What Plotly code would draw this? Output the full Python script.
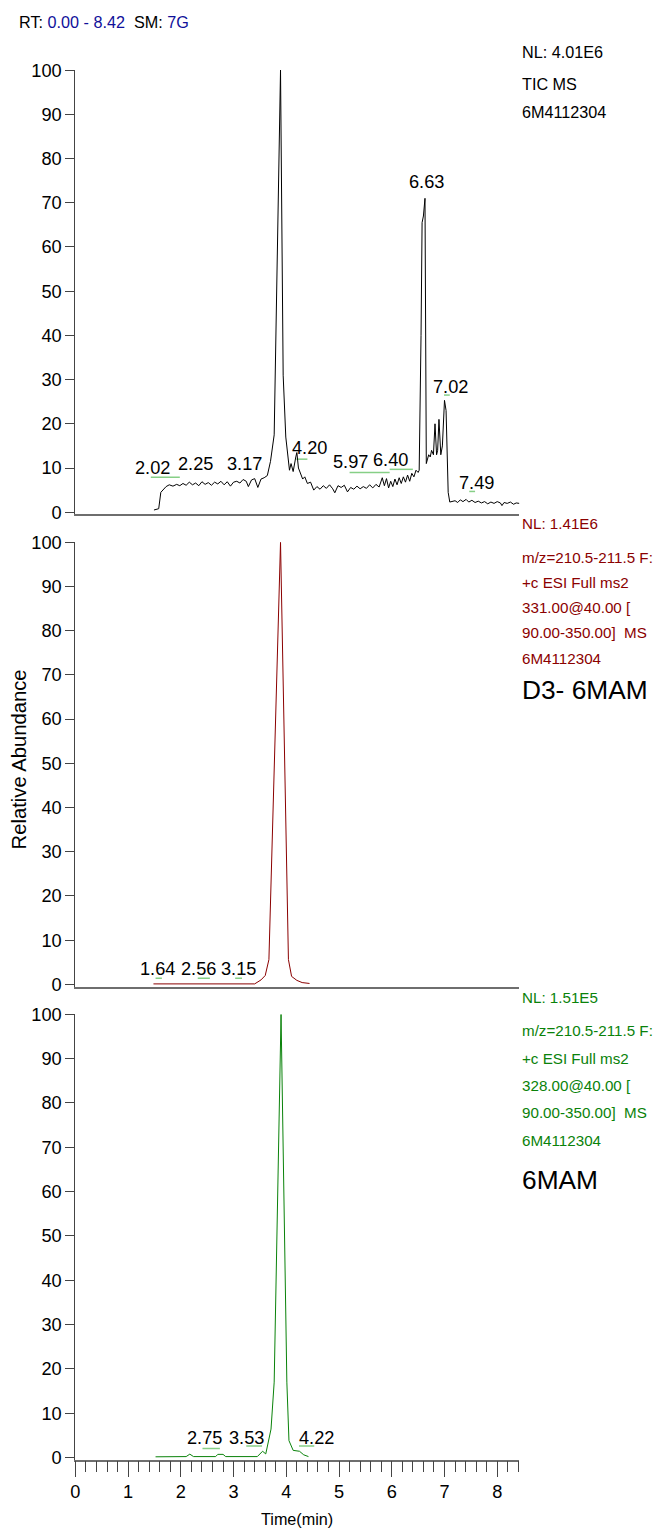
import plotly.graph_objects as go

# ---------------- data ----------------
# Panel 1: TIC (time in min, relative abundance %)
tic_time = [1.49, 1.58, 1.62, 1.66, 1.72, 1.78, 1.85, 1.92, 1.98, 2.04, 2.10, 2.16, 2.22, 2.28,
            2.34, 2.40, 2.46, 2.52, 2.58, 2.64, 2.70, 2.76, 2.82, 2.88, 2.94, 3.00, 3.06, 3.12,
            3.18, 3.24, 3.28, 3.34, 3.40, 3.46, 3.52, 3.58, 3.64, 3.70, 3.73, 3.77,
            3.89, 3.94, 3.99, 4.03, 4.06, 4.09, 4.13, 4.18, 4.20, 4.23, 4.27, 4.31, 4.35,
            4.40, 4.46, 4.52, 4.58, 4.64, 4.70, 4.76, 4.82, 4.88, 4.92, 4.98, 5.04, 5.10, 5.16,
            5.22, 5.28, 5.34, 5.40, 5.46, 5.52, 5.58, 5.64, 5.70, 5.76, 5.82, 5.86, 5.90, 5.94,
            5.98, 6.02, 6.06, 6.10, 6.14, 6.18, 6.22, 6.26, 6.30, 6.34, 6.38, 6.42, 6.46, 6.50,
            6.52, 6.555, 6.575, 6.60, 6.63, 6.655, 6.70, 6.73, 6.755, 6.79, 6.82, 6.85, 6.87,
            6.895, 6.93, 6.96, 7.00, 7.03, 7.07, 7.10, 7.15, 7.20, 7.25, 7.30, 7.35, 7.41, 7.46,
            7.52, 7.58, 7.64, 7.70, 7.76, 7.82, 7.88, 7.94, 8.00, 8.06, 8.09, 8.13, 8.19, 8.25,
            8.31, 8.36, 8.42]
tic_abund = [0.5, 0.8, 4.5, 5.0, 5.8, 6.2, 5.9, 6.3, 6.0, 6.5, 6.1, 6.8, 6.2, 6.6,
             6.0, 6.9, 6.3, 6.7, 6.1, 6.8, 6.4, 7.0, 6.2, 6.9, 5.9, 6.8, 7.0, 6.6,
             7.4, 7.0, 5.8, 7.3, 7.6, 5.6, 7.5, 7.8, 8.3, 11.5, 14.0, 17.5,
             100.0, 31.0, 17.0, 12.0, 9.5, 11.0, 9.2, 12.5, 13.5, 10.0, 8.5, 7.5, 8.0,
             6.5, 6.8, 5.0, 5.8, 5.2, 6.0, 5.4, 6.2, 5.3, 4.4, 6.0, 5.6, 6.1, 4.6,
             5.6, 5.2, 5.9, 5.3, 5.8, 5.4, 6.2, 5.5, 6.3, 5.7, 7.8, 6.0, 7.6, 5.5,
             7.0, 5.8, 7.5, 6.2, 7.8, 6.5, 8.0, 6.8, 8.4, 7.0, 8.8, 8.0, 9.5, 9.0,
             9.5, 40.0, 65.5, 67.0, 71.0, 11.0, 13.0, 12.5, 14.0, 13.0, 20.0, 13.0, 14.0,
             21.0, 13.0, 15.0, 25.3, 23.0, 4.5, 2.3, 2.4, 2.6, 2.2, 2.8, 2.4, 2.9, 2.3,
             2.7, 2.2, 2.5, 2.1, 2.4, 1.9, 2.3, 2.0, 2.4, 2.1, 1.5, 2.2, 2.0, 2.3,
             1.8, 2.1, 2.0]

# Panel 2: m/z 210.5-211.5 from 331 (D3-6MAM)
d3_time = [1.48, 3.40, 3.52, 3.60, 3.67, 3.89, 4.04, 4.10, 4.20, 4.30, 4.44]
d3_abund = [0.1, 0.1, 1.0, 2.0, 5.6, 100.0, 5.6, 1.8, 0.9, 0.4, 0.2]

# Panel 3: m/z 210.5-211.5 from 328 (6MAM)
mam_time = [1.52, 2.10, 2.17, 2.24, 2.66, 2.70, 2.80, 2.85, 3.45, 3.55, 3.61, 3.71, 3.77,
            3.90, 4.01, 4.05, 4.13, 4.25, 4.33, 4.42]
mam_abund = [0.15, 0.2, 0.75, 0.2, 0.2, 0.7, 0.7, 0.2, 0.2, 1.4, 0.8, 6.4, 17.0,
             100.0, 17.0, 3.8, 1.6, 1.4, 0.6, 0.2]

# Peak labels: text, label x (min), label y (%)
p1_labels = ["3.89", "6.63", "7.02", "7.49", "4.20", "2.02", "2.25", "3.17", "5.97", "6.40"]
p1_lab_x = [3.89, 6.65, 7.12, 7.60, 4.44, 1.46, 2.27, 3.20, 5.22, 5.98]
p1_lab_y = [103.4, 74.7, 28.4, 6.6, 14.5, 10.0, 10.9, 10.9, 11.3, 11.8]
p2_labels = ["3.89", "1.64", "2.56", "3.15"]
p2_lab_x = [3.88, 1.55, 2.34, 3.09]
p2_lab_y = [103.7, 3.5, 3.5, 3.5]
p3_labels = ["3.90", "2.75", "3.53", "4.22"]
p3_lab_x = [3.90, 2.44, 3.24, 4.57]
p3_lab_y = [103.5, 4.3, 4.3, 4.5]

# Green integration marks: start, end (min), level (%)
p1_mark_t0 = [1.43, 4.19, 5.20, 5.96, 6.99, 7.47]
p1_mark_t1 = [1.98, 4.40, 5.96, 6.40, 7.10, 7.58]
p1_mark_y = [7.9, 12.0, 9.0, 9.7, 26.5, 4.7]
p2_mark_t0 = [1.52, 2.32, 3.03]
p2_mark_t1 = [1.64, 2.55, 3.16]
p2_mark_y = [1.4, 1.4, 1.4]
p3_mark_t0 = [2.41, 3.24, 4.24]
p3_mark_t1 = [2.74, 3.54, 4.53]
p3_mark_y = [2.0, 2.6, 2.6]

# Header / info texts
header_rt = "0.00 - 8.42"
header_sm = "7G"
p1_info = ["NL: 4.01E6", "TIC MS", "6M4112304"]
p2_info = ["NL: 1.41E6", "m/z=210.5-211.5 F:", "+c ESI Full ms2", "331.00@40.00 [",
           "90.00-350.00]  MS", "6M4112304"]
p3_info = ["NL: 1.51E5", "m/z=210.5-211.5 F:", "+c ESI Full ms2", "328.00@40.00 [",
           "90.00-350.00]  MS", "6M4112304"]
p2_name = "D3- 6MAM"
p3_name = "6MAM"
x_title = "Time(min)"
y_title = "Relative Abundance"

# ---------------- layout geometry ----------------
OFF = 8        # default page body margin
S = 0.988      # observed capture scale (picture px / page px)
W = round(665 / S) - 2 * OFF
H = round(1529 / S) - 2 * OFF


def fx(rx):
    return rx / S - OFF


def fy(ry):
    return ry / S - OFF


def fs(size):
    return size / S


XL, XR = fx(78), fx(520)
panels = [(68, 510), (540, 982), (1012, 1455)]  # target pixel of 100 and of 0
YMIN = -0.5

SANS = "Liberation Sans, Arial, sans-serif"
RED = "#8B0000"
GREEN = "#0A820A"
MARK = "#86CF86"
TICKFS = 18
LABFS = 18
INFOFS = 15


def dom(top, zero):
    top, zero = fy(top), fy(zero)
    scale = (zero - top) / 100.0
    bottom = zero - YMIN * scale
    return [1 - bottom / H, 1 - top / H]


def seg(t0, t1, y):
    xs, ys = [], []
    for a, b, c in zip(t0, t1, y):
        xs += [a, b, None]
        ys += [c, c, None]
    return xs, ys


fig = go.Figure()
traces = [(tic_time, tic_abund, "black", p1_mark_t0, p1_mark_t1, p1_mark_y),
          (d3_time, d3_abund, RED, p2_mark_t0, p2_mark_t1, p2_mark_y),
          (mam_time, mam_abund, GREEN, p3_mark_t0, p3_mark_t1, p3_mark_y)]
for i, (tx, ty, col, m0, m1, my) in enumerate(traces):
    xa = "x" if i == 0 else f"x{i+1}"
    ya = "y" if i == 0 else f"y{i+1}"
    mx, myy = seg(m0, m1, my)
    fig.add_trace(go.Scatter(x=mx, y=myy, mode="lines", line=dict(color=MARK, width=1.5),
                             xaxis=xa, yaxis=ya, showlegend=False, hoverinfo="skip",
                             cliponaxis=False))
    fig.add_trace(go.Scatter(x=tx, y=ty, mode="lines", line=dict(color=col, width=1),
                             xaxis=xa, yaxis=ya, showlegend=False, cliponaxis=False))

layout = dict(width=W, height=H, margin=dict(l=0, r=0, t=0, b=0),
              paper_bgcolor="white", plot_bgcolor="white", showlegend=False,
              font=dict(family=SANS, color="black", size=fs(TICKFS)))

for i, (top, zero) in enumerate(panels):
    sx = "" if i == 0 else str(i + 1)
    ya = "y" + sx
    xa = "x" + sx
    xdef = dict(domain=[XL / W, XR / W], range=[0, 8.42], anchor=ya, showgrid=False,
                zeroline=False, showline=True, linecolor="#6E6E6E", linewidth=1.5,
                fixedrange=True)
    if i < 2:
        xdef.update(ticks="", showticklabels=False)
    else:
        xdef.update(ticks="outside", ticklen=fs(15), tickwidth=1, tickcolor="#444444",
                    tick0=0, dtick=1, showticklabels=True,
                    tickfont=dict(family=SANS, size=fs(18)),
                    minor=dict(ticks="outside", ticklen=fs(10), tickwidth=1,
                               tickcolor="#444444", dtick=0.2, tick0=0, showgrid=False))
    if i > 0:
        xdef["matches"] = "x"
    ydef = dict(domain=dom(top, zero), range=[YMIN, 100], anchor=xa, showgrid=False,
                zeroline=False, showline=True, linecolor="#444444", linewidth=1,
                ticks="outside", ticklen=fs(9), tickwidth=1, tickcolor="#444444",
                tick0=0, dtick=10, tickfont=dict(family=SANS, size=fs(TICKFS)),
                fixedrange=True)
    layout["xaxis" + sx] = xdef
    layout["yaxis" + sx] = ydef

fig.update_layout(**layout)

# peak labels
for i, (labs, lx, ly) in enumerate([(p1_labels, p1_lab_x, p1_lab_y),
                                    (p2_labels, p2_lab_x, p2_lab_y),
                                    (p3_labels, p3_lab_x, p3_lab_y)]):
    sx = "" if i == 0 else str(i + 1)
    for t, x, y in zip(labs, lx, ly):
        fig.add_annotation(text=t, x=x, y=y, xref="x" + sx, yref="y" + sx,
                           showarrow=False, xanchor="center", yanchor="middle",
                           font=dict(family=SANS, size=fs(LABFS), color="black"))


def pann(text, px, py, color="black", size=INFOFS, family=SANS, xanchor="left", angle=0):
    fig.add_annotation(text=text, x=fx(px) / W, y=1 - fy(py) / H,
                       xref="paper", yref="paper",
                       showarrow=False, xanchor=xanchor, yanchor="middle",
                       textangle=angle, font=dict(family=family, size=fs(size), color=color))


BLUE = "#10109A"
pann(f"RT: <span style='color:{BLUE}'>{header_rt}</span>  SM: "
     f"<span style='color:{BLUE}'>{header_sm}</span>", 20, 20, size=16)

for txt, py in zip(p1_info, [50, 82, 110]):
    pann(txt, 521, py, size=16)
for txt, py in zip(p2_info, [521, 555, 580, 605, 630, 656]):
    pann(txt, 521, py, color=RED)
pann(p2_name, 521, 688, size=26)
for txt, py in zip(p3_info, [995, 1028, 1056, 1083, 1110, 1138]):
    pann(txt, 521, py, color=GREEN)
pann(p3_name, 521, 1178, size=26)

pann(x_title, 299, 1517, size=16, xanchor="center")
pann(y_title, 22, 757, size=20, xanchor="center", angle=-90)

fig.write_html("out.html")
